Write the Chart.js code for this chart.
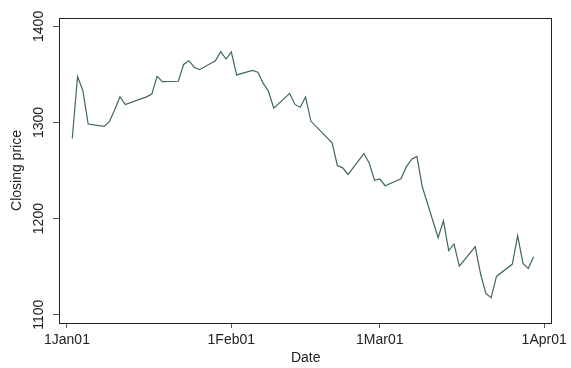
<!DOCTYPE html>
<html>
<head>
<meta charset="utf-8">
<script src="https://cdn.jsdelivr.net/npm/chart.js@4"></script>
<style>
  html, body { margin: 0; padding: 0; background: #fff; }
  #wrap { width: 571px; height: 368px; }
</style>
</head>
<body>
<div id="wrap"><canvas id="graphCanvas"></canvas></div>
<script>
// S&P 500 closing prices, Jan - Mar 2001
var dates = [
    '2001-01-02','2001-01-03','2001-01-04','2001-01-05','2001-01-08','2001-01-09','2001-01-10',
    '2001-01-11','2001-01-12','2001-01-16','2001-01-17','2001-01-18','2001-01-19','2001-01-22',
    '2001-01-23','2001-01-24','2001-01-25','2001-01-26','2001-01-29','2001-01-30','2001-01-31',
    '2001-02-01','2001-02-02','2001-02-05','2001-02-06','2001-02-07','2001-02-08','2001-02-09',
    '2001-02-12','2001-02-13','2001-02-14','2001-02-15','2001-02-16','2001-02-20','2001-02-21',
    '2001-02-22','2001-02-23','2001-02-26','2001-02-27','2001-02-28','2001-03-01','2001-03-02',
    '2001-03-05','2001-03-06','2001-03-07','2001-03-08','2001-03-09','2001-03-12','2001-03-13',
    '2001-03-14','2001-03-15','2001-03-16','2001-03-19','2001-03-20','2001-03-21','2001-03-22',
    '2001-03-23','2001-03-26','2001-03-27','2001-03-28','2001-03-29','2001-03-30'
];
var closes = [
    1283.3, 1347.6, 1333.3, 1298.4, 1295.9, 1300.8, 1313.3,
    1326.8, 1318.6, 1326.7, 1329.5, 1348.0, 1342.5, 1342.9,
    1360.4, 1364.3, 1357.5, 1355.0, 1364.2, 1373.7, 1366.0,
    1373.5, 1349.5, 1354.3, 1352.3, 1340.9, 1332.5, 1314.8,
    1330.3, 1318.8, 1315.9, 1326.6, 1301.5, 1278.9, 1255.3,
    1252.8, 1245.9, 1267.7, 1257.9, 1239.9, 1241.2, 1234.2,
    1241.4, 1253.8, 1261.9, 1264.7, 1233.4, 1180.2, 1197.7,
    1166.7, 1173.6, 1150.5, 1170.8, 1142.6, 1122.1, 1117.6,
    1139.8, 1152.7, 1182.2, 1153.3, 1148.0, 1160.3
];
var xTickDays = [0, 31, 59, 90];
var xTickLabels = ['1Jan01', '1Feb01', '1Mar01', '1Apr01'];
var yTicks = [1100, 1200, 1300, 1400];

// days since 1 Jan 2001
function dayNum(s) {
    var p = s.split('-');
    return (Date.UTC(+p[0], +p[1] - 1, +p[2]) - Date.UTC(2001, 0, 1)) / 86400000;
}

var points = [];
for (var i in dates) {
    points.push({x: dayNum(dates[i]), y: closes[i]});
}

var FONT = 'Liberation Sans, Arial, Helvetica, sans-serif';
var lineColor = '#3f6858';

// plot-region box and rotated y labels (Stata style)
var frame = {
    id: 'frame',
    afterDraw: function(chart) {
        var ctx = chart.ctx;
        var a = chart.chartArea;
        ctx.save();
        ctx.strokeStyle = '#222';
        ctx.lineWidth = 1;
        ctx.strokeRect(Math.round(a.left) + 0.5, Math.round(a.top) + 0.5,
            Math.round(a.right - a.left) - 1, Math.round(a.bottom - a.top));
        var ys = chart.scales.y;
        ctx.fillStyle = '#222';
        ctx.font = '14px ' + FONT;
        ctx.textAlign = 'center';
        ctx.textBaseline = 'middle';
        yTicks.forEach(function(v) {
            ctx.save();
            ctx.translate(39, ys.getPixelForValue(v));
            ctx.rotate(-Math.PI / 2);
            ctx.fillText(String(v), 0, 0);
            ctx.restore();
        });
        ctx.restore();
    }
};

new Chart(document.getElementById('graphCanvas'), {
    type: 'line',
    data: {
        datasets: [{
            label: 'Closing price',
            data: points,
            borderColor: lineColor,
            backgroundColor: lineColor,
            borderWidth: 1.2,
            pointRadius: 0,
            tension: 0,
            fill: false
        }]
    },
    options: {
        responsive: true,
        maintainAspectRatio: false,
        animation: false,
        layout: { padding: { top: 18, right: 15, left: 0, bottom: 0 } },
        plugins: {
            legend: { display: false },
            tooltip: { enabled: false }
        },
        scales: {
            x: {
                type: 'linear',
                min: -1.5,
                max: 91.57,
                afterBuildTicks: function(scale) {
                    scale.ticks = xTickDays.map(function(d) { return {value: d}; });
                },
                afterFit: function(scale) { scale.height = 45; },
                grid: { drawOnChartArea: false, drawTicks: true, tickLength: 5, color: '#555' },
                border: { display: false },
                ticks: {
                    color: '#222',
                    padding: 4,
                    maxRotation: 0,
                    font: { size: 14, family: FONT },
                    callback: function(value) {
                        var k = xTickDays.indexOf(value);
                        return k >= 0 ? xTickLabels[k] : '';
                    }
                },
                title: {
                    display: true,
                    text: 'Date',
                    color: '#222',
                    padding: { top: 0, bottom: 1 },
                    font: { size: 14, family: FONT }
                }
            },
            y: {
                min: 1091.35,
                max: 1408.75,
                afterBuildTicks: function(scale) {
                    scale.ticks = yTicks.map(function(v) { return {value: v}; });
                },
                afterFit: function(scale) { scale.width = 59; },
                grid: { drawOnChartArea: false, drawTicks: true, tickLength: 6, color: '#555' },
                border: { display: false },
                ticks: { display: false },
                title: {
                    display: true,
                    text: 'Closing price',
                    color: '#222',
                    padding: { top: 8.5, bottom: 0 },
                    font: { size: 14, family: FONT }
                }
            }
        }
    },
    plugins: [frame]
});
</script>
</body>
</html>
